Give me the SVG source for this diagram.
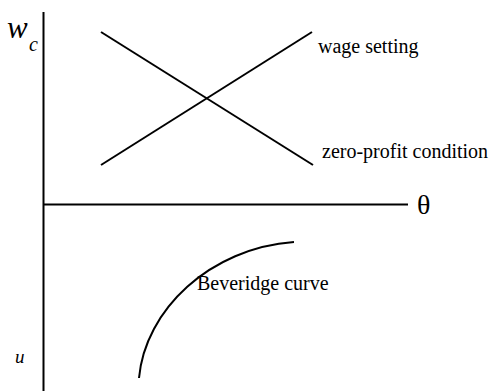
<svg xmlns="http://www.w3.org/2000/svg" width="492" height="391" viewBox="0 0 492 391">
<style>
.ln{stroke:#000;stroke-width:2;fill:none}
.t{font-family:"Liberation Serif","Times New Roman",serif;fill:#000}
</style>
<rect width="492" height="391" fill="#fff"/>
<g id="axes">
<line class="ln" x1="43.5" y1="12" x2="43.5" y2="391"/>
<line class="ln" x1="43" y1="204.5" x2="408" y2="204.5"/>
<text class="t" x="7" y="38" font-size="31" font-style="italic">w</text>
<text class="t" x="29" y="51" font-size="20" font-style="italic">c</text>
<text class="t" x="15" y="363" font-size="19" font-style="italic">u</text>
<text class="t" x="417" y="214" font-size="28">θ</text>
</g>
<g id="connectors">
<line id="zero-profit" class="ln" x1="101" y1="32" x2="313" y2="165"/>
<line id="wage-setting" class="ln" x1="101" y1="165" x2="312" y2="32"/>
<path id="beveridge" class="ln" d="M139,378 C145,310 210,248 294,242"/>
</g>
<g id="labels">
<text class="t" x="318" y="53" font-size="20">wage setting</text>
<text class="t" x="322" y="158" font-size="20">zero-profit condition</text>
<text class="t" x="197" y="290" font-size="20">Beveridge curve</text>
</g>
</svg>
